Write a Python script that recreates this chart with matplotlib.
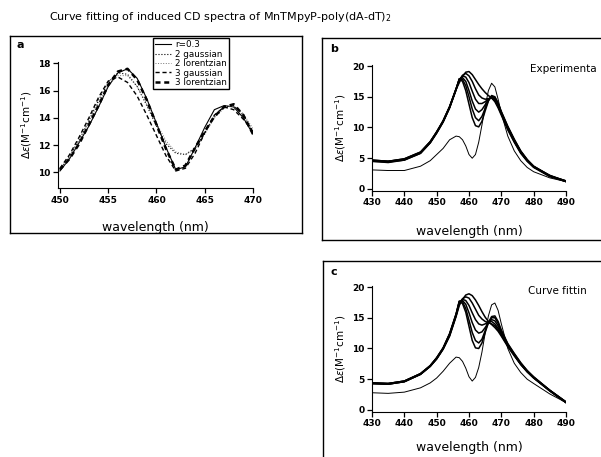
import numpy as np
import matplotlib.pyplot as plt
from matplotlib.lines import Line2D

# ---- panel a : curve fitting at r=0.3 ----
wl_a = [450, 451, 452, 453, 454, 455, 456, 457, 458, 459, 460,
        461, 462, 463, 464, 465, 466, 467, 468, 469, 470]
r03 = [10.1, 11.0, 12.2, 13.4, 14.8, 16.3, 17.3, 17.6, 16.9, 15.4, 13.6,
       11.8, 10.2, 10.4, 11.8, 13.3, 14.6, 14.9, 14.8, 14.0, 12.8]
gau2 = [10.2, 11.2, 12.4, 13.8, 15.3, 16.6, 17.3, 17.2, 16.3, 14.9, 13.4,
        12.1, 11.4, 11.3, 11.8, 12.9, 14.1, 14.8, 14.9, 14.2, 13.0]
lor2 = [10.2, 11.1, 12.3, 13.7, 15.1, 16.4, 17.1, 17.1, 16.3, 15.0, 13.6,
        12.3, 11.5, 11.3, 11.7, 12.8, 14.0, 14.7, 14.9, 14.3, 13.2]
gau3 = [10.3, 11.3, 12.6, 14.0, 15.5, 16.7, 17.0, 16.6, 15.6, 14.2, 12.7,
        11.2, 10.1, 10.3, 11.4, 12.9, 14.2, 14.8, 14.6, 13.9, 13.0]
lor3 = [10.2, 11.0, 12.1, 13.5, 14.9, 16.4, 17.4, 17.6, 16.8, 15.3, 13.5,
        11.7, 10.2, 10.5, 11.8, 13.0, 14.1, 14.8, 15.0, 14.2, 12.8]

# ---- panels b and c : wavelength grid ----
wl = [430, 435, 440, 445, 448, 450, 452, 454, 456, 457, 458, 459, 460, 461, 462,
      463, 464, 465, 466, 467, 468, 469, 470, 472, 474, 476, 478, 480, 485, 490]

# experimental spectra (b)
exp_low = [3.1, 3.0, 3.0, 3.7, 4.6, 5.6, 6.6, 8.0, 8.6, 8.5, 8.0, 7.0, 5.6, 5.0, 5.6,
           7.6, 10.4, 13.4, 16.0, 17.2, 16.6, 14.6, 12.3, 8.6, 6.2, 4.6, 3.5, 2.8, 1.8, 1.2]
exp_1 = [4.6, 4.4, 4.8, 5.9, 7.6, 9.2, 11.0, 13.3, 16.2, 17.3, 18.3, 19.0, 19.1, 18.6, 17.8,
         17.0, 16.3, 15.7, 15.2, 14.8, 14.2, 13.2, 12.0, 9.6, 7.6, 5.8, 4.5, 3.5, 2.0, 1.2]
exp_2 = [4.7, 4.5, 4.9, 6.0, 7.7, 9.3, 11.1, 13.4, 16.3, 17.6, 18.5, 18.8, 18.4, 17.5, 16.3,
         15.3, 14.8, 14.6, 14.7, 14.8, 14.4, 13.4, 12.2, 9.8, 7.7, 5.9, 4.6, 3.6, 2.1, 1.3]
exp_3 = [4.5, 4.4, 4.7, 5.8, 7.5, 9.1, 10.9, 13.2, 16.2, 17.8, 18.4, 18.2, 17.3, 15.9, 14.6,
         13.9, 13.9, 14.2, 14.6, 14.9, 14.5, 13.5, 12.3, 9.9, 7.8, 6.0, 4.6, 3.6, 2.1, 1.2]
exp_4 = [4.7, 4.5, 4.8, 5.9, 7.6, 9.3, 11.0, 13.3, 16.3, 17.9, 18.1, 17.5, 16.0, 14.3, 13.0,
         12.5, 12.9, 13.7, 14.5, 15.0, 14.7, 13.7, 12.4, 10.0, 7.9, 6.1, 4.7, 3.7, 2.1, 1.3]
exp_5 = [4.6, 4.5, 4.9, 6.0, 7.7, 9.2, 11.1, 13.4, 16.2, 17.9, 17.8, 16.8, 15.0, 13.0, 11.6,
         11.1, 11.8, 13.1, 14.4, 15.1, 14.9, 13.9, 12.5, 10.1, 8.0, 6.1, 4.7, 3.6, 2.2, 1.2]
exp_6 = [4.5, 4.3, 4.7, 5.8, 7.5, 9.1, 10.9, 13.2, 16.1, 17.9, 17.5, 16.0, 13.8, 11.6, 10.3,
         10.1, 11.0, 12.7, 14.3, 15.2, 15.0, 14.0, 12.6, 10.2, 8.1, 6.2, 4.8, 3.7, 2.2, 1.3]

# fitted spectra (c)
fit_low = [2.8, 2.7, 2.9, 3.6, 4.4, 5.2, 6.3, 7.6, 8.6, 8.5, 7.9, 6.8, 5.4, 4.7, 5.3,
           6.9, 9.4, 12.5, 15.3, 17.1, 17.4, 16.2, 14.0, 10.0, 7.6, 6.1, 5.0, 4.3, 2.6, 1.2]
fit_1 = [4.3, 4.2, 4.6, 5.8, 7.1, 8.3, 9.9, 12.0, 15.2, 17.0, 18.0, 18.7, 18.9, 18.6, 17.9,
         17.0, 16.0, 15.1, 14.4, 13.9, 13.4, 12.8, 12.0, 10.3, 8.8, 7.4, 6.2, 5.2, 3.1, 1.2]
fit_2 = [4.3, 4.2, 4.6, 5.8, 7.1, 8.3, 9.9, 12.1, 15.3, 17.3, 18.1, 18.4, 18.2, 17.4, 16.4,
         15.4, 14.8, 14.4, 14.2, 14.0, 13.7, 13.0, 12.2, 10.4, 8.9, 7.4, 6.2, 5.2, 3.1, 1.2]
fit_3 = [4.3, 4.2, 4.6, 5.8, 7.1, 8.4, 10.0, 12.2, 15.4, 17.5, 18.0, 17.8, 17.0, 15.8, 14.7,
         14.0, 13.8, 14.0, 14.3, 14.4, 14.0, 13.3, 12.4, 10.5, 9.0, 7.5, 6.3, 5.3, 3.1, 1.2]
fit_4 = [4.4, 4.3, 4.7, 5.9, 7.2, 8.4, 10.0, 12.3, 15.5, 17.6, 17.8, 17.2, 15.8, 14.2, 13.0,
         12.5, 12.7, 13.4, 14.2, 14.7, 14.5, 13.7, 12.6, 10.6, 9.0, 7.5, 6.3, 5.3, 3.2, 1.3]
fit_5 = [4.4, 4.3, 4.7, 5.9, 7.2, 8.5, 10.1, 12.4, 15.6, 17.7, 17.6, 16.5, 14.6, 12.6, 11.3,
         10.9, 11.5, 12.9, 14.2, 15.0, 15.0, 14.1, 12.8, 10.7, 9.1, 7.6, 6.4, 5.3, 3.2, 1.3]
fit_6 = [4.4, 4.3, 4.7, 5.9, 7.2, 8.5, 10.1, 12.4, 15.6, 17.7, 17.3, 15.9, 13.6, 11.3, 10.1,
         10.0, 10.9, 12.6, 14.2, 15.2, 15.3, 14.4, 13.0, 10.8, 9.2, 7.7, 6.4, 5.4, 3.2, 1.3]

W, H = 601, 457
fig = plt.figure(figsize=(W / 100, H / 100), dpi=100)

def fx(px): return px / W              # pixel -> figure coords
def fy(py): return 1 - py / H

def style(ax):
    ax.spines['top'].set_visible(False)
    ax.spines['right'].set_visible(False)
    ax.tick_params(direction='out', length=3.5, width=0.9, labelsize=6.5, pad=2)
    for lab in ax.get_xticklabels() + ax.get_yticklabels():
        lab.set_fontweight('bold')

def xlab(ax, ypix):                    # x label centred at a given pixel row
    ax.set_xlabel('wavelength (nm)', fontsize=9, va='center')
    ax.xaxis.set_label_coords(fx(469 if ax is not axa else 155), fy(ypix),
                              transform=fig.transFigure)

ylab = r'$\Delta\varepsilon$(M$^{\mathregular{-1}}$cm$^{\mathregular{-1}}$)'

# ---- a ----
axa = fig.add_axes([fx(58), fy(188), fx(253) - fx(58), (188 - 62) / H])
axa.plot(wl_a, r03, 'k-', lw=0.8, label='r=0.3')
axa.plot(wl_a, gau2, 'k:', lw=0.8, label='2 gaussian')
axa.plot(wl_a, lor2, ':', color='0.45', lw=0.7, label='2 lorentzian')
axa.plot(wl_a, gau3, 'k', ls=(0, (3, 2)), lw=1.0, label='3 gaussian')
axa.plot(wl_a, lor3, 'k', ls=(0, (2, 1.5)), lw=1.8, label='3 lorentzian')
axa.set_xlim(449.8, 470)
axa.set_ylim(8.85, 18.1)
axa.set_xticks([450, 455, 460, 465, 470])
axa.set_yticks([10, 12, 14, 16, 18])
style(axa)
axa.set_ylabel(ylab, fontsize=7.5, labelpad=3)
xlab(axa, 228)
leg = axa.legend(loc='upper left', bbox_to_anchor=(0.487, 1.19), borderaxespad=0,
                 fontsize=6.3, handlelength=1.8, handletextpad=0.5, labelspacing=0.05,
                 borderpad=0.25, fancybox=False, framealpha=1)
leg.get_frame().set_edgecolor('black')
leg.get_frame().set_linewidth(1.0)

# ---- b ----
axb = fig.add_axes([fx(372), fy(190.8), fx(566) - fx(372), 126 / H])
for y in [exp_1, exp_2, exp_3, exp_4, exp_5, exp_6]:
    axb.plot(wl, y, 'k-', lw=1.1)
axb.plot(wl, exp_low, 'k-', lw=0.7)
axb.set_xlim(430, 490)
axb.set_ylim(-0.3, 20.2)
axb.set_xticks(np.arange(430, 491, 10))
axb.set_yticks([0, 5, 10, 15, 20])
style(axb)
axb.set_ylabel(ylab, fontsize=7.5, labelpad=3)
xlab(axb, 231)

# ---- c ----
axc = fig.add_axes([fx(372), fy(411.8), fx(566) - fx(372), 126 / H])
for y in [fit_1, fit_2, fit_3, fit_4, fit_5, fit_6]:
    axc.plot(wl, y, 'k-', lw=1.1)
axc.plot(wl, fit_low, 'k-', lw=0.7)
axc.set_xlim(430, 490)
axc.set_ylim(-0.3, 20.2)
axc.set_xticks(np.arange(430, 491, 10))
axc.set_yticks([0, 5, 10, 15, 20])
style(axc)
axc.set_ylabel(ylab, fontsize=7.5, labelpad=3)
xlab(axc, 447)

# panel frames
def seg(x0, y0, x1, y1):
    fig.add_artist(Line2D([fx(x0), fx(x1)], [fy(y0), fy(y1)], color='k', lw=1.0))

seg(10, 36, 302, 36); seg(10, 36, 10, 233); seg(10, 233, 302, 233); seg(302, 36, 302, 233)
seg(322, 38, 601, 38); seg(322, 38, 322, 240); seg(322, 240, 601, 240)
seg(323, 261, 601, 261); seg(323, 261, 323, 457)

# texts
fig.text(fx(220), fy(17), r'Curve fitting of induced CD spectra of MnTMpyP-poly(dA-dT)$_2$',
         ha='center', va='center', fontsize=8)
fig.text(fx(20), fy(45), 'a', fontsize=8, fontweight='bold', ha='center', va='center')
fig.text(fx(334), fy(49), 'b', fontsize=8, fontweight='bold', ha='center', va='center')
fig.text(fx(334), fy(272), 'c', fontsize=8, fontweight='bold', ha='center', va='center')
fig.text(fx(530), fy(69), 'Experimenta', fontsize=7.5, ha='left', va='center')
fig.text(fx(528), fy(291), 'Curve fittin', fontsize=7.5, ha='left', va='center')

plt.savefig('out.png', dpi=100)
